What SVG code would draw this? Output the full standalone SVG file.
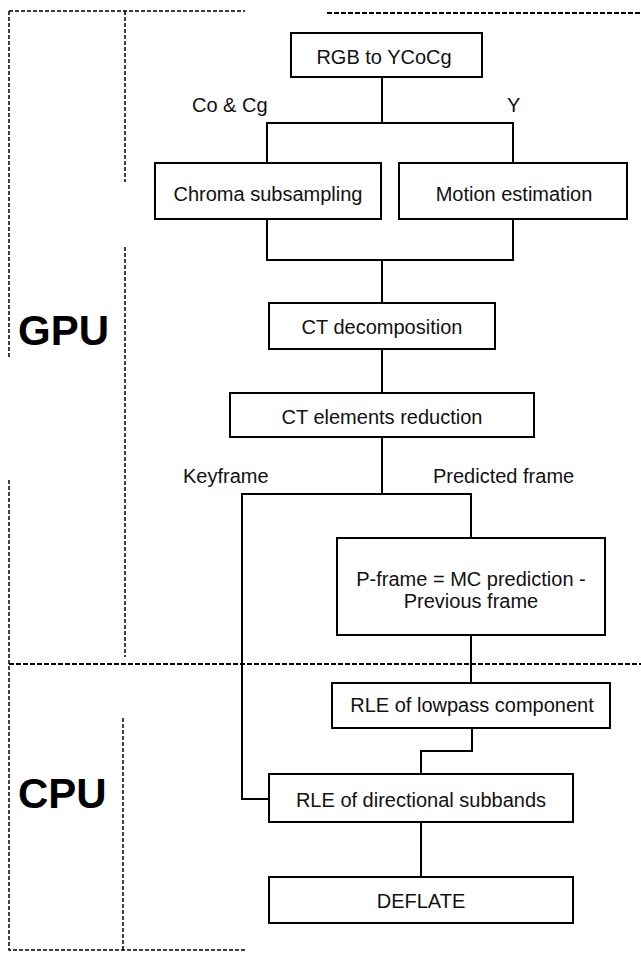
<svg xmlns="http://www.w3.org/2000/svg" width="641" height="954" viewBox="0 0 641 954">
<style>
.box{fill:#fff;stroke:#000;stroke-width:2}
.t{font-family:"Liberation Sans",Arial,sans-serif;font-size:20px;fill:#111;text-anchor:middle}
.lbl{font-family:"Liberation Sans",Arial,sans-serif;font-size:20px;fill:#111}
.big{font-family:"Liberation Sans",Arial,sans-serif;font-size:42px;font-weight:bold;fill:#000}
.con{fill:none;stroke:#000;stroke-width:2}
.dash{fill:none;stroke:#000;stroke-width:1.5;stroke-dasharray:4 2}
.dash2{fill:none;stroke:#000;stroke-width:2;stroke-dasharray:5 2}
</style>
<rect width="641" height="954" fill="#fff"/>
<g id="regions">
<path class="dash" d="M9,11 H245"/>
<path class="dash2" d="M327,13 H641"/>
<path class="dash" d="M9,11 V357"/>
<path class="dash" d="M125,11 V182"/>
<path class="dash" d="M125,247 V657"/>
<path class="dash" d="M9,480 V950 H245"/>
<path class="dash" d="M123,718 V950"/>
<path class="dash2" d="M9,664 H641"/>
<text class="big" x="18" y="345">GPU</text>
<text class="big" x="18" y="808">CPU</text>
</g>
<g id="connectors">
<path class="con" d="M382,77 V123"/>
<path class="con" d="M267,163 V123 H513 V163"/>
<path class="con" d="M267,219 V260 H513 V219"/>
<path class="con" d="M382,260 V303"/>
<path class="con" d="M382,349 V393"/>
<path class="con" d="M382,437 V494"/>
<path class="con" d="M471,538 V494 H242 V799 H269"/>
<path class="con" d="M471,635 V683"/>
<path class="con" d="M472,728 V751 H421 V774"/>
<path class="con" d="M421,822 V877"/>
<text class="lbl" x="192" y="112">Co &amp; Cg</text>
<text class="lbl" x="507" y="112">Y</text>
<text class="lbl" x="183" y="483">Keyframe</text>
<text class="lbl" x="433" y="483">Predicted frame</text>
</g>
<g id="rgb">
<rect class="box" x="291" y="33" width="191" height="44"/>
<text class="t" x="384" y="64">RGB to YCoCg</text>
</g>
<g id="chroma">
<rect class="box" x="155" y="163" width="226" height="56"/>
<text class="t" x="268" y="201">Chroma subsampling</text>
</g>
<g id="motion">
<rect class="box" x="399" y="163" width="228" height="56"/>
<text class="t" x="514" y="201">Motion estimation</text>
</g>
<g id="ctdec">
<rect class="box" x="269" y="303" width="226" height="46"/>
<text class="t" x="382" y="334">CT decomposition</text>
</g>
<g id="ctred">
<rect class="box" x="230" y="393" width="304" height="44"/>
<text class="t" x="382" y="424">CT elements reduction</text>
</g>
<g id="pframe">
<rect class="box" x="337" y="538" width="268" height="97"/>
<text class="t" x="471" y="586">P-frame = MC prediction -</text>
<text class="t" x="471" y="608">Previous frame</text>
</g>
<g id="rlelow">
<rect class="box" x="332" y="683" width="278" height="45"/>
<text class="t" x="472" y="712">RLE of lowpass component</text>
</g>
<g id="rledir">
<rect class="box" x="269" y="774" width="304" height="48"/>
<text class="t" x="421" y="807">RLE of directional subbands</text>
</g>
<g id="deflate">
<rect class="box" x="269" y="877" width="304" height="46"/>
<text class="t" x="421" y="908">DEFLATE</text>
</g>
</svg>
